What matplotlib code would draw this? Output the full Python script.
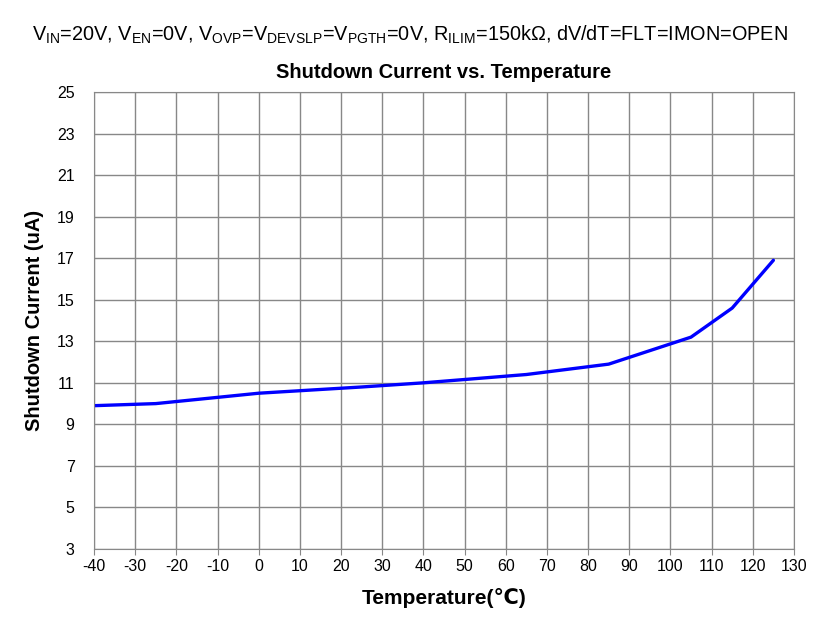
import matplotlib
matplotlib.use("Agg")
import matplotlib.pyplot as plt

plt.rcParams['font.family'] = ['Liberation Sans', 'DejaVu Sans']
plt.rcParams['mathtext.fontset'] = 'custom'
plt.rcParams['mathtext.rm'] = 'Liberation Sans'
plt.rcParams['axes.unicode_minus'] = False

# data
temperature = [-40, -25, 0, 25, 40, 65, 85, 105, 115, 125]
shutdown_current = [9.9, 10.0, 10.5, 10.8, 11.0, 11.4, 11.9, 13.2, 14.6, 16.9]

x_ticks = list(range(-40, 131, 10))
y_ticks = list(range(3, 26, 2))

fig = plt.figure(figsize=(8.4, 6.2), dpi=100)
ax = fig.add_axes([0.1119, 0.1145, 0.8333, 0.7371])

ax.plot(temperature, shutdown_current, color='#0000ff', lw=2.4, solid_capstyle='round')

ax.set_xlim(-40, 130)
ax.set_ylim(3, 25)
ax.set_xticks(x_ticks)
ax.set_yticks(y_ticks)
ax.grid(True, color='#888888', lw=1.0)
ax.set_axisbelow(True)
for s in ax.spines.values():
    s.set_color('#888888')
ax.tick_params(axis='both', labelsize=11.5, color='#888888', length=4)
ax.tick_params(axis='y', length=0, pad=14)

ax.set_xlabel('Temperature(℃)', fontsize=15, fontweight='bold', labelpad=10)
ax.set_ylabel('Shutdown Current (uA)', fontsize=14.5, fontweight='bold', labelpad=9)

ax.set_title('Shutdown Current vs. Temperature', fontsize=14.5, fontweight='bold', pad=10)
fig.text(0.488, 0.944,
         r'$\mathregular{V_{IN}}$=20V, $\mathregular{V_{EN}}$=0V, $\mathregular{V_{OVP}}$=$\mathregular{V_{DEVSLP}}$'
         r'=$\mathregular{V_{PGTH}}$=0V, $\mathregular{R_{ILIM}}$=150kΩ, dV/dT=FLT=IMON=OPEN',
         ha='center', va='center', fontsize=14.3)

fig.savefig('out.png', dpi=100)
